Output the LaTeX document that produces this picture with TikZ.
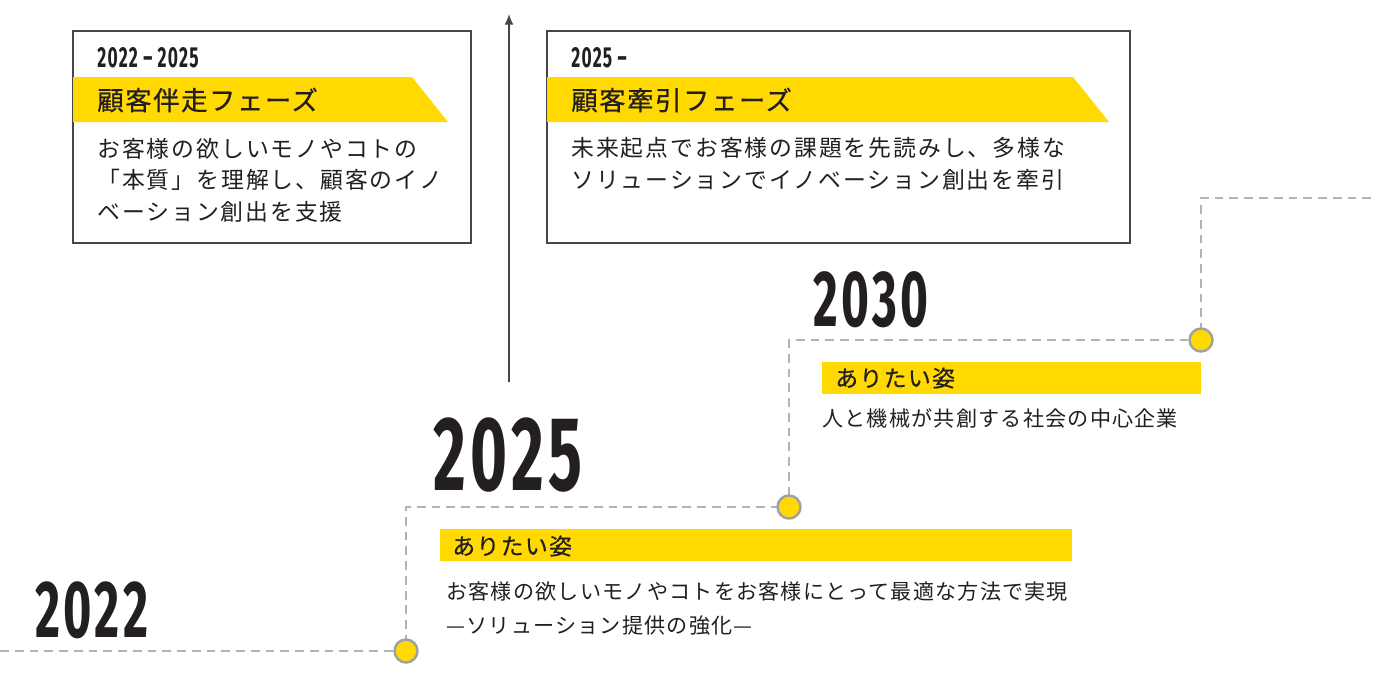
\documentclass[tikz,border=0pt]{standalone}
\usepackage{fontspec}
\usepackage{graphicx}
\usetikzlibrary{arrows.meta}
\setmainfont{Noto Sans CJK JP}
\newfontfamily\jpbody[LetterSpace=8.5]{Noto Sans CJK JP}
\newfontfamily\jpgoal[LetterSpace=5.8]{Noto Sans CJK JP}
\newfontfamily\jptitle[LetterSpace=6,FakeBold=0.6]{Noto Sans CJK JP}
\newfontfamily\yearfamily[LetterSpace=7]{Fira Sans}
\newcommand{\yearnum}[2]{\scalebox{0.6}[1]{\yearfamily\bfseries\fontsize{#1}{#1}\selectfont #2}}
\definecolor{brandyellow}{RGB}{255,217,0}
\definecolor{inkdark}{RGB}{35,31,32}
\definecolor{boxline}{RGB}{70,70,70}
\definecolor{dashgray}{RGB}{178,178,186}
\definecolor{dotrim}{RGB}{160,160,168}

\begin{document}
\begin{tikzpicture}[x=0.02cm,y=-0.02cm,
  phasebox/.style={draw=boxline,line width=0.8pt},
  phasetitle/.style={anchor=west,inner sep=0pt,text=inkdark,font=\jptitle\fontsize{15}{17}\selectfont},
  phasetext/.style={anchor=west,inner sep=0pt,align=left,text=inkdark,font=\jpbody\fontsize{13}{17.9}\selectfont},
  yearsmall/.style={anchor=base west,inner sep=0pt,text=inkdark},
  yearbig/.style={anchor=base west,inner sep=0pt,text=inkdark},
  goallabel/.style={anchor=west,inner sep=0pt,text=inkdark,font=\jptitle\fontsize{13}{15}\selectfont},
  goaltext/.style={anchor=west,inner sep=0pt,align=left,text=inkdark,font=\jpgoal\fontsize{12}{19.8}\selectfont},
  timeline/.style={draw=dashgray,line width=1.4pt,dash pattern=on 5pt off 3.4pt},
  milestone/.style={circle,fill=brandyellow,draw=dotrim,line width=1.4pt,minimum size=0.46cm,inner sep=0pt}]
\useasboundingbox (0,0) rectangle (1376,674);

% Phase 1 box
\draw[phasebox] (73,31) rectangle (471,243);
\fill[brandyellow] (73,77) -- (412,77) -- (448,122) -- (73,122) -- cycle;
\node[yearsmall] (p1years) at (97,67) {\yearnum{16.5}{2022 – 2025}};
\node[phasetitle] (p1title) at (97,100) {顧客伴走フェーズ};
\node[phasetext] (p1text) at (97,180) {お客様の欲しいモノやコトの\\「本質」を理解し、顧客のイノ\\ベーション創出を支援};

% Phase 2 box
\draw[phasebox] (547,31) rectangle (1130,243);
\fill[brandyellow] (547,77) -- (1073,77) -- (1109,122) -- (547,122) -- cycle;
\node[yearsmall] (p2years) at (571,67) {\yearnum{16.5}{2025 –}};
\node[phasetitle] (p2title) at (571,100) {顧客牽引フェーズ};
\node[phasetext] (p2text) at (571,164) {未来起点でお客様の課題を先読みし、多様な\\ソリューションでイノベーション創出を牽引};

% Time arrow
\coordinate (arrowfoot) at (509,382);
\coordinate (arrowhead) at (509,14);
\draw[draw=boxline,line width=0.9pt,-{Latex[length=6pt,width=5pt]}] (arrowfoot) -- (arrowhead);

% Stepped timeline
\coordinate (t0) at (0,651);
\coordinate (m2022) at (406,651);
\coordinate (m2025) at (789,507);
\coordinate (m2030) at (1201,340);
\coordinate (t1) at (1376,198);
\draw[timeline] (t0) -- (m2022) |- (m2025) |- (m2030) |- (t1);
\foreach \m in {m2022,m2025,m2030}
  \node[milestone] (dot-\m) at (\m) {};

% Years
\node[yearbig] (y2022) at (35,637) {\yearnum{46}{2022}};
\node[yearbig] (y2025) at (433,490) {\yearnum{60}{2025}};
\node[yearbig] (y2030) at (813,326) {\yearnum{45.3}{2030}};

% Goal 2025
\fill[brandyellow] (440,529) rectangle (1072,561);
\node[goallabel] (g2025) at (452,546) {ありたい姿};
\node[goaltext] (g2025text) at (446,608.5) {お客様の欲しいモノやコトをお客様にとって最適な方法で実現\\—ソリューション提供の強化—};

% Goal 2030
\fill[brandyellow] (822,362) rectangle (1201,394);
\node[goallabel] (g2030) at (835,378) {ありたい姿};
\node[goaltext] (g2030text) at (822,418) {人と機械が共創する社会の中心企業};
\end{tikzpicture}
\end{document}
